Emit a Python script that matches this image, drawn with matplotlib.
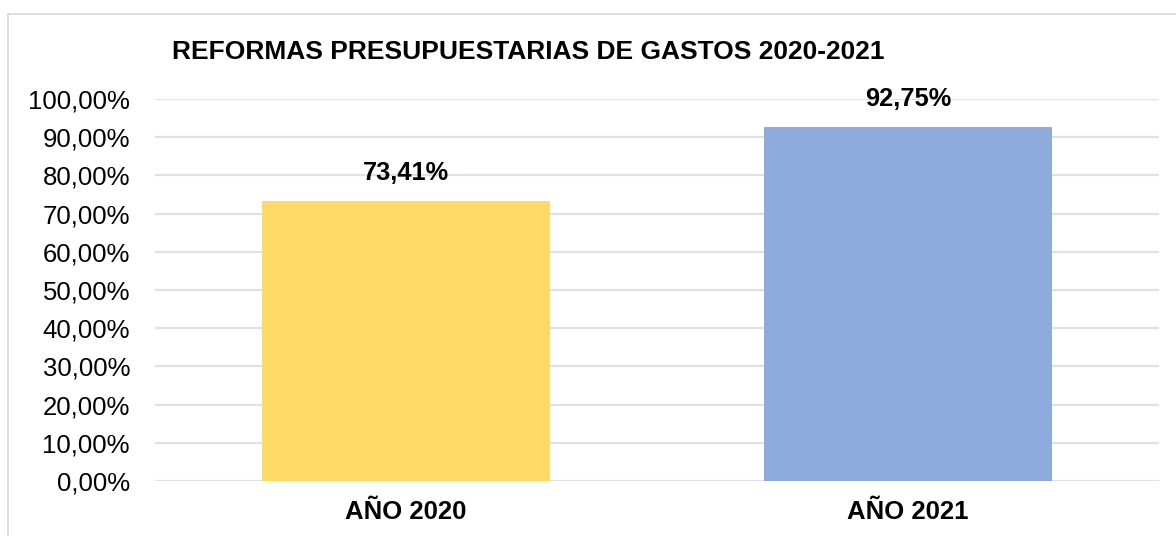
import matplotlib.pyplot as plt
from matplotlib.patches import Rectangle
from matplotlib.ticker import FuncFormatter, MultipleLocator

categories = ["AÑO 2020", "AÑO 2021"]
values = [73.41, 92.75]
bar_colors = ["#FFD966", "#8FAADC"]
title = "REFORMAS PRESUPUESTARIAS DE GASTOS 2020-2021"

plt.rcParams["font.family"] = ["Liberation Sans", "DejaVu Sans"]

W, H = 1176, 536
fig = plt.figure(figsize=(W / 100, H / 100), dpi=100)
ax = fig.add_axes([155 / W, 1 - 481 / H, (1159 - 155) / W, (481 - 99) / H])

# outer chart frame
fig.patches.append(Rectangle((8 / W, -0.1), 1.2, 1 - 14 / H + 0.1,
                             transform=fig.transFigure, fill=False,
                             edgecolor="#D9D9D9", linewidth=1.2))

x = range(len(categories))
ax.bar(x, values, width=0.572, color=bar_colors, zorder=3)
ax.set_xlim(-0.5, len(categories) - 0.5)
ax.set_ylim(0, 100)
ax.yaxis.set_major_locator(MultipleLocator(10))
ax.yaxis.set_major_formatter(FuncFormatter(lambda v, p: f"{v:.2f}".replace(".", ",") + "%"))
ax.grid(axis="y", color="#DEE2E8", linewidth=1.6, zorder=0)
for s in ax.spines.values():
    s.set_visible(False)
ax.tick_params(axis="y", length=0, labelsize=18.5, pad=18, labelcolor="#000000")
ax.tick_params(axis="x", length=0, labelsize=18.5, pad=14)
ax.set_xticks(list(x))
ax.set_xticklabels(categories, fontweight="bold")

for xi, v in zip(x, values):
    ax.annotate(f"{v:.2f}".replace(".", ",") + "%", (xi, v), xytext=(0, 11),
                textcoords="offset points", ha="center", va="bottom",
                fontsize=18.3, fontweight="bold")

fig.text(528 / W, 1 - 52 / H, title, ha="center", va="center",
         fontsize=19, fontweight="bold")

fig.savefig("out.png", dpi=100)
